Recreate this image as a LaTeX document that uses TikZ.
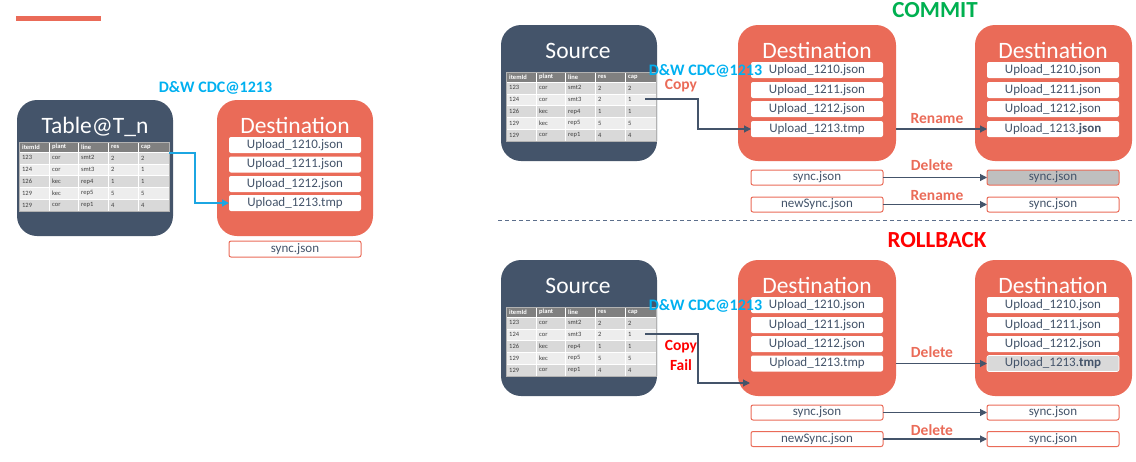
\documentclass[tikz,border=0pt]{standalone}
\usepackage{fontspec}
\setmainfont{Carlito}
\usetikzlibrary{arrows.meta}
\definecolor{slate}{HTML}{44546A}
\definecolor{coral}{HTML}{EA6B58}
\definecolor{cdcblue}{HTML}{00B0F0}
\definecolor{arrblue}{HTML}{1CA6E2}
\definecolor{cgreen}{HTML}{00B050}
\definecolor{cred}{HTML}{FF0000}
\definecolor{hdrc}{HTML}{808080}
\definecolor{rowA}{HTML}{D9D9D9}
\definecolor{rowB}{HTML}{EDEDED}
\definecolor{celltext}{HTML}{404040}
\definecolor{grayfill}{HTML}{BFBFBF}
\definecolor{lgrayfill}{HTML}{D9D9D9}
\definecolor{dashc}{HTML}{5C6F8C}
\newcommand{\fs}[1]{\fontsize{#1}{#1}\selectfont}
\tikzset{
  srcbox/.style={fill=slate, draw=none, rounded corners=20pt, inner sep=0pt, outer sep=0pt, anchor=north west},
  dstbox/.style={fill=coral, draw=none, rounded corners=20pt, inner sep=0pt, outer sep=0pt, anchor=north west},
  boxtitle/.style={text=white, font=\fs{23.5}, inner sep=0pt, anchor=base},
  filebox/.style={fill=white, draw=none, rounded corners=2pt, minimum width=132pt, minimum height=16pt, inner sep=0pt, outer sep=0pt, text=slate, font=\fs{13}, text height=9.2pt, text depth=2.6pt},
  syncbox/.style={fill=white, draw=coral, line width=1pt, rounded corners=2pt, minimum width=132pt, minimum height=15pt, inner sep=0pt, outer sep=0pt, text=slate, font=\fs{13}, text height=9.2pt, text depth=2.6pt},
  oplabel/.style={text=coral, font=\bfseries\fs{15.5}, inner sep=0pt, anchor=base},
  cdclabel/.style={text=cdcblue, font=\bfseries\fs{16}, inner sep=0pt, anchor=base},
  headline/.style={font=\bfseries\fs{23}, inner sep=0pt, anchor=base},
  arr/.style={draw=slate, line width=1.1pt, -{Triangle[length=7pt,width=7pt]}},
  bluearr/.style={draw=arrblue, line width=1.3pt, -{Triangle[length=7pt,width=7pt]}},
  tblframe/.style={minimum width=150pt, minimum height=69pt, inner sep=0pt, outer sep=0pt, draw=none},
  hcell/.style={text=white, font=\bfseries\fs{6.5}, inner sep=0pt, anchor=west},
  dcell/.style={text=celltext, font=\fs{6.5}, inner sep=0pt, anchor=west},
}
\newcommand{\dtable}[2]{%
\begin{scope}[shift={(#2)}]
  \node[tblframe, anchor=north west] (#1) at (0,0) {};
  \fill[hdrc] (0,0) rectangle (150,10);
  \foreach \r/\f in {0/rowA,1/rowB,2/rowA,3/rowB,4/rowA}
    \fill[\f] (0,{10+\r*11.8}) rectangle (150,{10+(\r+1)*11.8});
  \foreach \x in {30,59,89,119}
    \draw[white, line width=0.8pt] (\x,0) -- (\x,69);
  \foreach \r in {1,...,4}
    \draw[white, line width=0.5pt] (0,{10+\r*11.8}) -- (150,{10+\r*11.8});
  \draw[white, line width=0.5pt] (0,10) -- (150,10);
  \node[hcell] (#1h1) at (3,5.2) {itemId};
  \node[hcell] (#1h2) at (33,5.2) {plant};
  \node[hcell] (#1h3) at (62,5.2) {line};
  \node[hcell] (#1h4) at (92,5.2) {res};
  \node[hcell] (#1h5) at (122,5.2) {cap};
  \foreach \a/\b/\c/\d/\e [count=\r from 0] in {123/cor/smt2/2/2,124/cor/smt3/2/1,126/kec/rep4/1/1,129/kec/rep5/5/5,129/cor/rep1/4/4}{
    \node[dcell] (#1r\r a) at (3,{10+(\r+0.5)*11.8}) {\a};
    \node[dcell] (#1r\r b) at (33,{10+(\r+0.5)*11.8}) {\b};
    \node[dcell] (#1r\r c) at (62,{10+(\r+0.5)*11.8}) {\c};
    \node[dcell] (#1r\r d) at (92,{10+(\r+0.5)*11.8}) {\d};
    \node[dcell] (#1r\r e) at (122,{10+(\r+0.5)*11.8}) {\e};
  }
  \draw[gray!60, line width=0.8pt] (0,0) rectangle (150,69);
\end{scope}}
\begin{document}
\begin{tikzpicture}[x=1pt,y=-1pt]
\useasboundingbox (0,0) rectangle (1136,461);
% top-left bar
\fill[coral] (16,16) rectangle (101,21);

% ===== LEFT =====
\node[srcbox, minimum width=156pt, minimum height=136pt] (tabL) at (17,100) {};
\node[boxtitle] (tabLt) at (95,133.5) {Table@T\_n};
\dtable{tblL}{19,142}
\node[dstbox, minimum width=156pt, minimum height=136pt] (dstL) at (217,100) {};
\node[boxtitle] (dstLt) at (295,133.5) {Destination};
\node[filebox] (fL1) at (295,145) {Upload\_1210.json};
\node[filebox] (fL2) at (295,164.5) {Upload\_1211.json};
\node[filebox] (fL3) at (295,184) {Upload\_1212.json};
\node[filebox] (fL4) at (295,203) {Upload\_1213.tmp};
\node[syncbox, minimum height=16pt] (sL) at (295,249) {sync.json};
\node[cdclabel] (cdcL) at (215.5,92) {D\&W CDC@1213};
\coordinate (bStart) at (169,153);
\draw[bluearr] (bStart) -- (195,153) |- (fL4.west);

% ===== COMMIT =====
\node[headline, text=cgreen] (commit) at (935,17.7) {COMMIT};
\node[srcbox, minimum width=156pt, minimum height=136pt] (srcT) at (501,25) {};
\node[boxtitle] (srcTt) at (578,58) {Source};
\dtable{tblT}{506,72}
\node[dstbox, minimum width=158pt, minimum height=136pt] (dT1) at (738,25) {};
\node[boxtitle] (dT1t) at (817,58) {Destination};
\node[filebox] (fT11) at (817,70) {Upload\_1210.json};
\node[filebox] (fT12) at (817,90) {Upload\_1211.json};
\node[filebox] (fT13) at (817,109) {Upload\_1212.json};
\node[filebox] (fT14) at (817,129) {Upload\_1213.tmp};
\node[dstbox, minimum width=157pt, minimum height=136pt] (dT2) at (975,25) {};
\node[boxtitle] (dT2t) at (1053,58) {Destination};
\node[filebox] (fT21) at (1053,70) {Upload\_1210.json};
\node[filebox] (fT22) at (1053,90) {Upload\_1211.json};
\node[filebox] (fT23) at (1053,109) {Upload\_1212.json};
\node[filebox] (fT24) at (1053,129) {Upload\_1213.\textbf{json}};
\node[cdclabel] (cdcT) at (705.5,75) {D\&W CDC@1213};
\node[oplabel] (copyT) at (681,89) {Copy};
\coordinate (cStartT) at (645,99);
\draw[arr] (cStartT) -- (698,99) |- (fT14.west);
\draw[arr] (dT1.east |- fT14) -- (fT24.west);
\node[oplabel] (renT) at (937,123.3) {Rename};
\node[syncbox] (sT1) at (817,177.5) {sync.json};
\node[syncbox, fill=grayfill] (sT2) at (1053,177.5) {sync.json};
\draw[arr] (sT1.east) -- (sT2.west);
\node[oplabel] (delT) at (932,170.7) {Delete};
\node[syncbox] (nT1) at (817,204.5) {newSync.json};
\node[syncbox] (nT2) at (1053,204.5) {sync.json};
\draw[arr] (nT1.east) -- (nT2.west);
\node[oplabel] (renT2) at (937,200) {Rename};

% separator
\draw[dashc, line width=1pt, dash pattern=on 4pt off 3pt] (498,220.5) -- (1133,220.5);

% ===== ROLLBACK =====
\node[headline, text=cred] (rollback) at (937,247.3) {ROLLBACK};
\node[srcbox, minimum width=156pt, minimum height=136pt] (srcB) at (501,260) {};
\node[boxtitle] (srcBt) at (578,293) {Source};
\dtable{tblB}{506,307}
\node[dstbox, minimum width=158pt, minimum height=136pt] (dB1) at (738,260) {};
\node[boxtitle] (dB1t) at (817,293) {Destination};
\node[filebox] (fB11) at (817,305) {Upload\_1210.json};
\node[filebox] (fB12) at (817,325) {Upload\_1211.json};
\node[filebox] (fB13) at (817,344) {Upload\_1212.json};
\node[filebox] (fB14) at (817,363.5) {Upload\_1213.tmp};
\node[dstbox, minimum width=157pt, minimum height=136pt] (dB2) at (975,260) {};
\node[boxtitle] (dB2t) at (1053,293) {Destination};
\node[filebox] (fB21) at (1053,305) {Upload\_1210.json};
\node[filebox] (fB22) at (1053,325) {Upload\_1211.json};
\node[filebox] (fB23) at (1053,344) {Upload\_1212.json};
\node[filebox, fill=lgrayfill, draw=white, line width=0.6pt] (fB24) at (1053,363.5) {Upload\_1213.\textbf{tmp}};
\node[cdclabel] (cdcB) at (705.5,310) {D\&W CDC@1213};
\node[oplabel, text=cred] (copyB) at (681,350.7) {Copy};
\node[oplabel, text=cred] (failB) at (681,370) {Fail};
\coordinate (cStartB) at (645,334);
\coordinate (cEndB) at (750,383);
\draw[arr] (cStartB) -- (698,334) |- (cEndB);
\draw[arr] (dB1.east |- fB14) -- (fB24.west);
\node[oplabel] (delB) at (932,357.7) {Delete};
\node[syncbox] (sB1) at (817,412.5) {sync.json};
\node[syncbox] (sB2) at (1053,412.5) {sync.json};
\draw[arr] (sB1.east) -- (sB2.west);
\node[syncbox] (nB1) at (817,439) {newSync.json};
\node[syncbox] (nB2) at (1053,439) {sync.json};
\draw[arr] (nB1.east) -- (nB2.west);
\node[oplabel] (delB2) at (932,435) {Delete};
\end{tikzpicture}
\end{document}
